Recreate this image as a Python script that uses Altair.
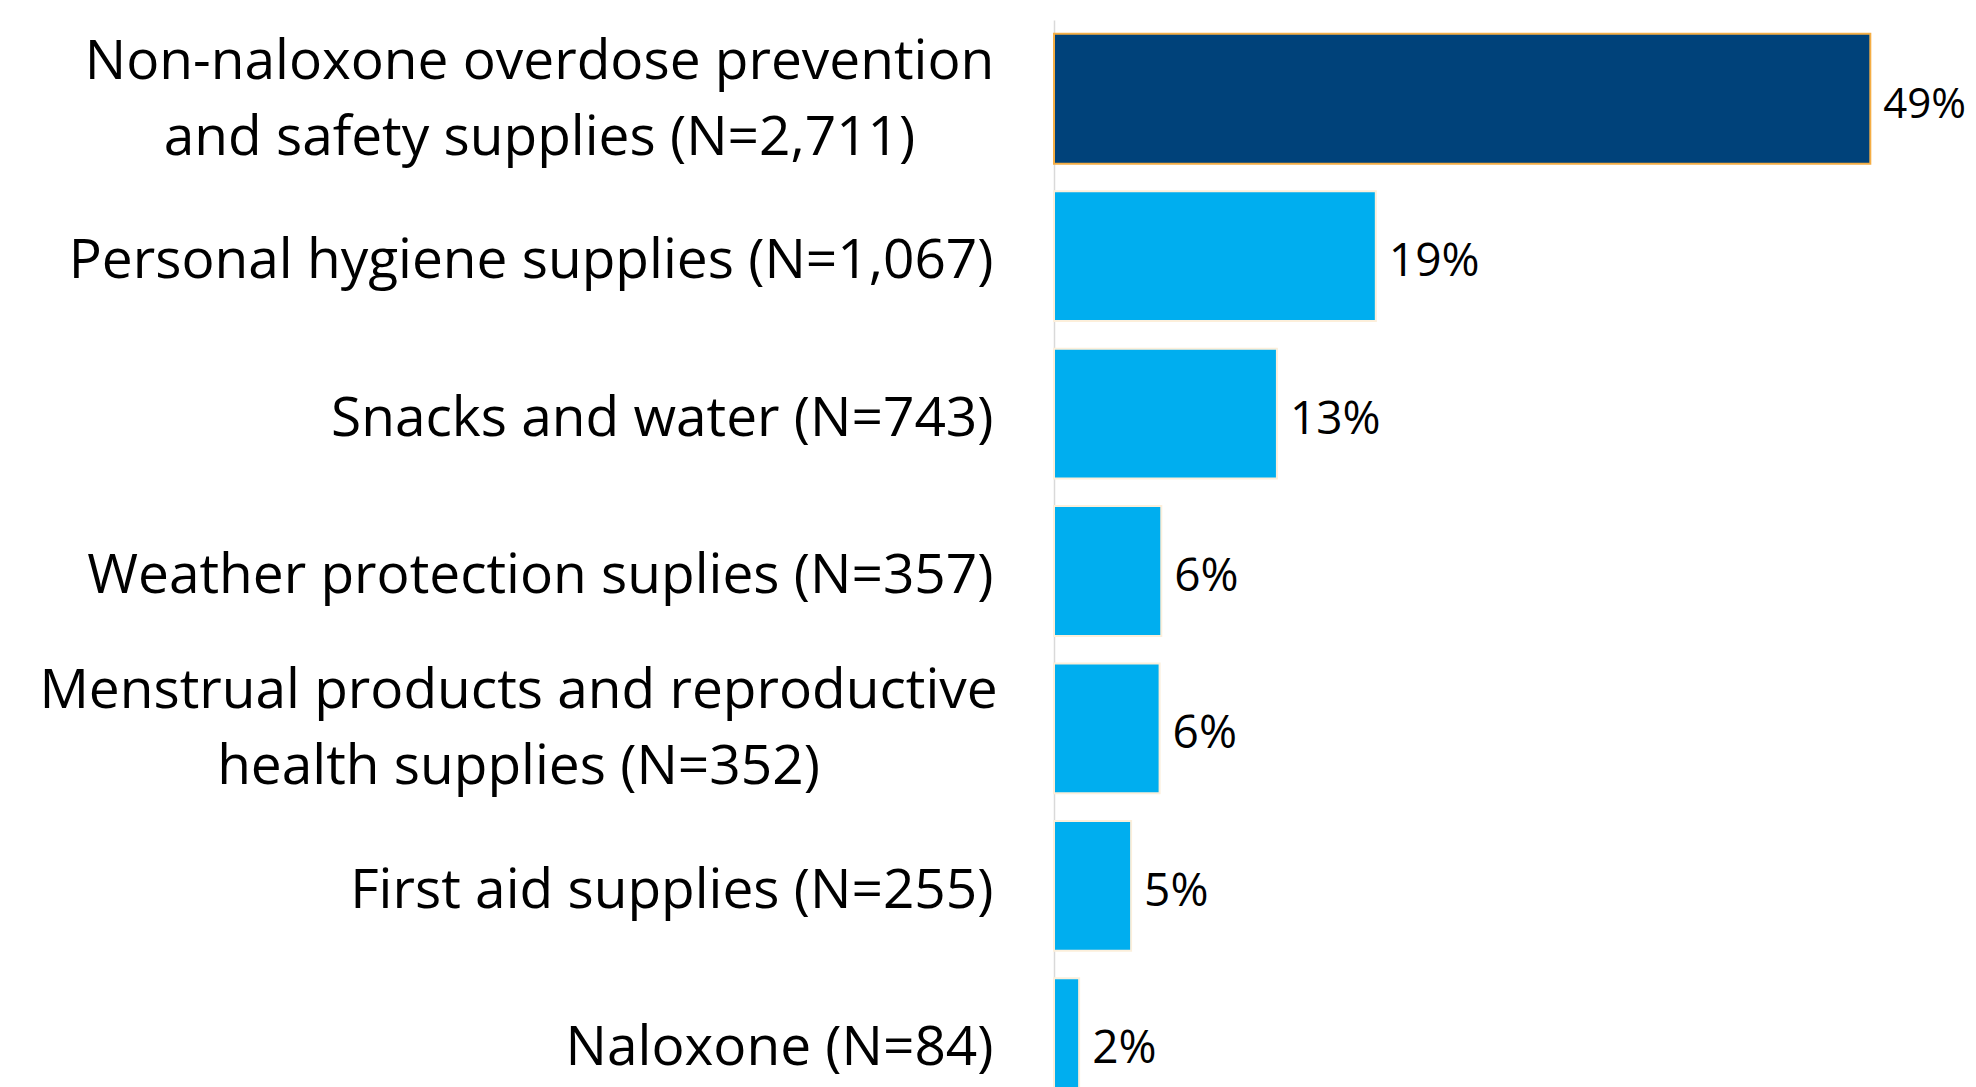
import altair as alt
import pandas as pd

categories = [
    "Non-naloxone overdose prevention|and safety supplies (N=2,711)",
    "Personal hygiene supplies (N=1,067)",
    "Snacks and water (N=743)",
    "Weather protection suplies (N=357)",
    "Menstrual products and reproductive|health supplies (N=352)",
    "First aid supplies (N=255)",
    "Naloxone (N=84)",
]
percents = [48.7, 19.2, 13.3, 6.4, 6.3, 4.6, 1.5]
highlight = [True, False, False, False, False, False, False]

df = pd.DataFrame({"cat": categories, "pct": percents, "hl": highlight})

FONT = "Open Sans"
TWO = "indexof(datum.value, '|') >= 0"

y_enc = alt.Y(
    "cat:N",
    sort=categories,
    scale=alt.Scale(paddingInner=0.175, paddingOuter=0.0875),
    axis=alt.Axis(
        title=None,
        ticks=False,
        domainColor="#D9D9D9",
        domainWidth=1.5,
        labelFont=FONT,
        labelFontSize=55,
        labelColor="#000000",
        labelLimit=2000,
        labelLineHeight=76,
        labelExpr="split(datum.label, '|')",
        labelAlign={"condition": {"test": TWO, "value": "center"}, "value": "right"},
        labelPadding={
            "condition": [
                {"test": "indexof(datum.value, 'Non-naloxone') >= 0", "value": 515},
                {"test": "indexof(datum.value, 'Menstrual') >= 0", "value": 536},
            ],
            "value": 61,
        },
        labelOffset={"condition": {"test": TWO, "value": -37}, "value": 5},
    ),
)

x_enc = alt.X("pct:Q", scale=alt.Scale(domain=[0, 52.5], nice=False), axis=None)

bars = alt.Chart(df).mark_bar(strokeWidth=2).encode(
    x=x_enc,
    y=y_enc,
    color=alt.condition("datum.hl", alt.value("#00427A"), alt.value("#00AEEF")),
    stroke=alt.condition("datum.hl", alt.value("#F5AE45"), alt.value("#FCEFDB")),
)

labels = alt.Chart(df).transform_calculate(
    lab="format(datum.pct, '.0f') + '%'"
).mark_text(
    align="left", baseline="middle", dx=13, dy=6, font=FONT, color="#000000"
).encode(
    x=x_enc,
    y=alt.Y("cat:N", sort=categories),
    text="lab:N",
    size=alt.condition("datum.hl", alt.value(42), alt.value(46)),
)

chart = (bars + labels).properties(
    width=880,
    height=1102,
    background="#FFFFFF",
    autosize=alt.AutoSizeParams(type="none"),
    padding={"left": 1046, "top": 12, "right": 34, "bottom": 0},
).configure_view(stroke=None)

chart.save("out.html", embed_options={"renderer": "svg", "actions": False})
